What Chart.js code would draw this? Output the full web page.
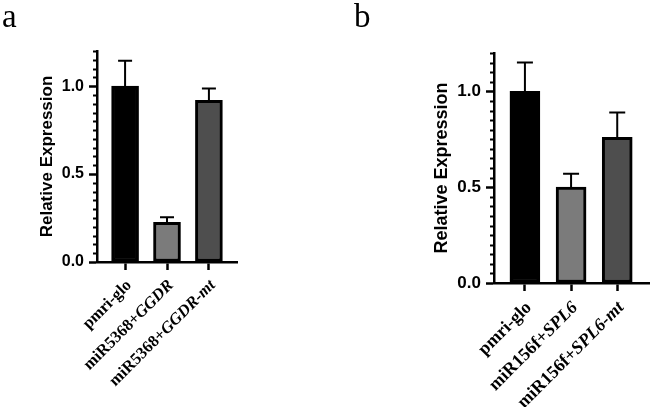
<!doctype html>
<html>
<head>
<meta charset="utf-8">
<title>Relative Expression</title>
<style>
  body { margin: 0; background: #fff; width: 650px; height: 407px; position: relative; overflow: hidden; }
  .pane { position: absolute; top: 0; width: 325px; height: 407px; }
  .tag { position: absolute; font-family: "Liberation Serif", serif; font-size: 33px; line-height: 1; color: #000; }
</style>
</head>
<body>
  <div class="pane" style="left:0"><canvas id="chartA" width="325" height="407"></canvas></div>
  <div class="pane" style="left:325px"><canvas id="chartB" width="325" height="407"></canvas></div>
  <div class="tag" style="left:2px;top:0">a</div>
  <div class="tag" style="left:354px;top:0">b</div>
  <script src="https://cdn.jsdelivr.net/npm/chart.js@4.4.1/dist/chart.umd.min.js"></script>
  <script>
    // categories: [upright part, italic part]
    const namesA = [['pmri-glo', ''], ['miR5368+', 'GGDR'], ['miR5368+', 'GGDR-mt']];
    const meansA = [1.0, 0.225, 0.92];
    const sdA = [0.145, 0.03, 0.067];

    const namesB = [['pmri-glo', ''], ['miR156f+', 'SPL6'], ['miR156f+', 'SPL6-mt']];
    const meansB = [1.0, 0.5, 0.76];
    const sdB = [0.15, 0.07, 0.13];

    const yTicks = [0, 0.5, 1.0];
    const yMax = 1.2;
    const fills = ['#000000', '#7b7b7b', '#4e4e4e'];

    function extras(names, means, sd, cfg) {
      return {
        id: 'extras',
        afterDatasetsDraw(chart) {
          const ctx = chart.ctx;
          const x = chart.scales.x, y = chart.scales.y;
          const area = chart.chartArea;
          ctx.save();
          ctx.strokeStyle = '#000';
          ctx.lineWidth = 2;
          // error bars (upper only)
          chart.getDatasetMeta(0).data.forEach(function(bar, i) {
            const top = y.getPixelForValue(means[i] + sd[i]);
            ctx.beginPath();
            ctx.moveTo(bar.x, bar.y);
            ctx.lineTo(bar.x, top);
            ctx.moveTo(bar.x - cfg.cap / 2, top);
            ctx.lineTo(bar.x + cfg.cap / 2, top);
            ctx.stroke();
          });
          // minor ticks every 0.05
          ctx.beginPath();
          for (let k = 1; k * 0.05 <= yMax + 1e-9; k++) {
            if (k % 10 === 0) continue;
            const py = Math.round(y.getPixelForValue(k * 0.05)) + 0.5;
            ctx.moveTo(area.left - 4, py);
            ctx.lineTo(area.left, py);
          }
          ctx.stroke();
          // rotated category labels, mixed upright / italic
          ctx.fillStyle = '#000';
          ctx.textBaseline = 'middle';
          ctx.textAlign = 'left';
          names.forEach(function(n, i) {
            const px = x.getPixelForValue(i);
            ctx.save();
            ctx.translate(px + cfg.lx, area.bottom + cfg.ly);
            ctx.rotate(-cfg.angle * Math.PI / 180);
            ctx.font = 'italic bold ' + cfg.fs + 'px "Liberation Serif"';
            const wI = ctx.measureText(n[1]).width;
            ctx.font = 'bold ' + cfg.fs + 'px "Liberation Serif"';
            const wP = ctx.measureText(n[0]).width;
            ctx.fillText(n[0], -wI - wP, 0);
            ctx.font = 'italic bold ' + cfg.fs + 'px "Liberation Serif"';
            ctx.fillText(n[1], -wI, 0);
            ctx.restore();
          });
          ctx.restore();
        }
      };
    }

    function makeChart(id, names, means, sd, cfg) {
      return new Chart(document.getElementById(id), {
        type: 'bar',
        data: {
          datasets: [{
            data: means.map(function(v, i) { return { x: i, y: v }; }),
            backgroundColor: fills,
            borderColor: '#000',
            borderWidth: 3,
            borderSkipped: false,
            barThickness: cfg.bar
          }]
        },
        options: {
          responsive: false,
          animation: false,
          layout: { padding: cfg.pad },
          plugins: { legend: { display: false }, tooltip: { enabled: false } },
          scales: {
            x: {
              type: 'linear',
              offset: false,
              min: -0.67,
              max: cfg.xmax,
              afterBuildTicks: function(s) { s.ticks = names.map(function(_, i) { return { value: i }; }); },
              ticks: { display: false },
              grid: { drawOnChartArea: false, offset: false, tickLength: 8, tickWidth: 2.5, tickColor: '#000' },
              border: { color: '#000', width: 2.5 },
              afterFit: function(s) { s.height = 407 - cfg.bottom; }
            },
            y: {
              min: 0,
              max: yMax,
              afterBuildTicks: function(s) { s.ticks = yTicks.map(function(v) { return { value: v }; }); },
              ticks: {
                callback: function(v) { return v.toFixed(1); },
                color: '#000',
                padding: 5,
                font: { family: '"Liberation Sans", Arial', weight: 'bold', size: cfg.tfs }
              },
              grid: { drawOnChartArea: false, tickLength: 8, tickWidth: 2.5, tickColor: '#000' },
              border: { color: '#000', width: 2.5 },
              title: {
                display: true,
                text: 'Relative Expression',
                color: '#000',
                font: { family: '"Liberation Sans", Arial', weight: 'bold', size: cfg.yfs }
              },
              afterFit: function(s) { s.width = cfg.yw; }
            }
          }
        },
        plugins: [extras(names, means, sd, cfg)]
      });
    }

    makeChart('chartA', namesA, meansA, sdA, {
      pad: { left: 33, top: 51, right: 88, bottom: 0 }, yw: 64, bottom: 262, xmax: 2.67,
      bar: 27, cap: 14, tfs: 16, yfs: 17, fs: 16.5, angle: 45, lx: 4, ly: 21
    });
    makeChart('chartB', namesB, meansB, sdB, {
      pad: { left: 102, top: 53, right: 0, bottom: 0 }, yw: 67, bottom: 283, xmax: 2.71,
      bar: 30, cap: 16, tfs: 17, yfs: 18, fs: 18, angle: 45, lx: 4, ly: 22
    });
  </script>
</body>
</html>
